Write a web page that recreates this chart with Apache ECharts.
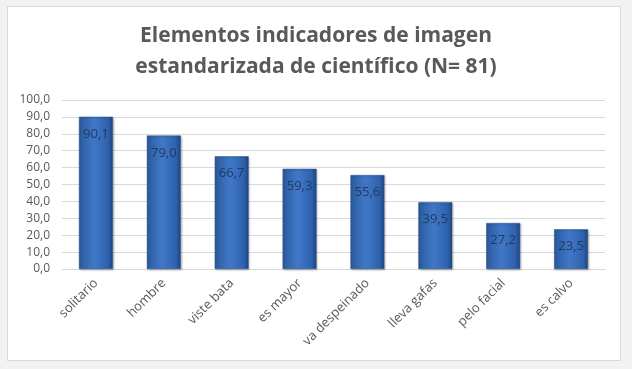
<!DOCTYPE html>
<html>
<head>
<meta charset="utf-8">
<script src="https://cdn.jsdelivr.net/npm/echarts@6/dist/echarts.min.js"></script>
<style>
html, body { margin: 0; padding: 0; background: #f2f2f2; }
#frame { position: absolute; left: 7px; top: 6px; width: 612px; height: 353px; background: #fff; border: 1px solid #d9d9d9; }
#main { width: 632px; height: 369px; position: absolute; left: 0; top: 0; }
</style>
</head>
<body>
<div id="frame"></div>
<div id="main"></div>
<script>
// datos
const categorias = ['solitario', 'hombre', 'viste bata', 'es mayor', 'va despeinado', 'lleva gafas', 'pelo facial', 'es calvo'];
const porcentajes = [90.1, 79.0, 66.7, 59.3, 55.6, 39.5, 27.2, 23.5];

let chart = echarts.init(document.getElementById('main'));
let fmt = function (v) { return v.toFixed(1).replace('.', ','); };

let option = {
    backgroundColor: 'transparent',
    title: {
        text: 'Elementos indicadores de imagen\nestandarizada de científico (N= 81)',
        left: 'center',
        top: 16,
        textStyle: {
            fontFamily: 'Open Sans',
            fontWeight: 'bold',
            fontSize: 21,
            color: '#595959',
            lineHeight: 31
        }
    },
    grid: {
        left: 62,
        right: 27,
        top: 100,
        bottom: 100,
        containLabel: false
    },
    xAxis: {
        type: 'category',
        data: categorias,
        axisTick: { show: false },
        axisLine: { lineStyle: { color: '#d9d9d9' } },
        axisLabel: {
            rotate: 45,
            color: '#595959',
            fontSize: 13,
            fontFamily: 'Open Sans',
            margin: 12
        }
    },
    yAxis: {
        type: 'value',
        min: 0,
        max: 100,
        interval: 10,
        axisLine: { show: false },
        axisTick: { show: false },
        splitLine: { lineStyle: { color: '#d9d9d9' } },
        axisLabel: {
            color: '#595959',
            fontSize: 12,
            fontFamily: 'Open Sans',
            margin: 12,
            formatter: fmt
        }
    },
    series: [{
        type: 'bar',
        data: porcentajes,
        barWidth: '50%',
        itemStyle: {
            color: new echarts.graphic.LinearGradient(0, 0, 1, 0, [
                { offset: 0, color: '#2b5a9c' },
                { offset: 0.45, color: '#4078c8' },
                { offset: 0.85, color: '#2f62ad' },
                { offset: 1, color: '#1d4580' }
            ]),
            borderColor: '#2a5592',
            borderWidth: 0.5,
            shadowColor: 'rgba(0,0,0,0.25)',
            shadowBlur: 2,
            shadowOffsetX: 1,
            shadowOffsetY: 1
        },
        label: {
            show: true,
            position: 'insideTop',
            distance: 11,
            color: '#1f3a5c',
            fontSize: 13,
            fontFamily: 'Open Sans',
            formatter: function (p) { return fmt(p.value); }
        }
    }]
};
chart.setOption(option);
</script>
</body>
</html>
